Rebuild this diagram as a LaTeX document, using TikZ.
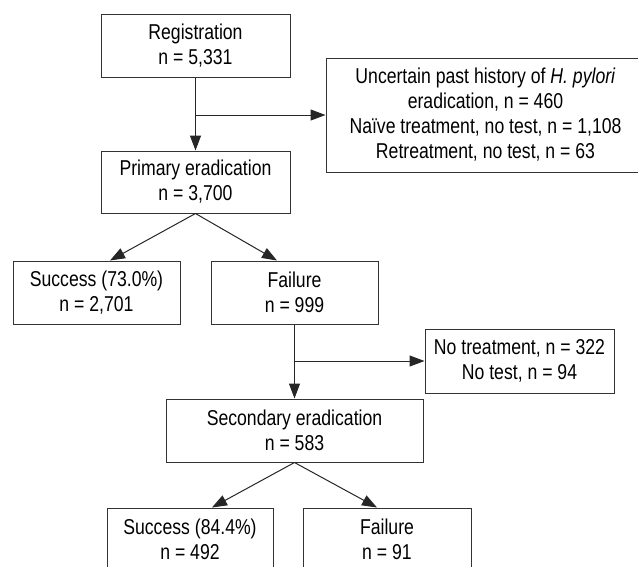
\documentclass[tikz,border=0pt]{standalone}
\usepackage{fontspec}
\setmainfont{Liberation Sans}[FakeStretch=0.82]
\usetikzlibrary{arrows.meta}

\begin{document}
\begin{tikzpicture}[x=1pt,y=-1pt,
  box/.style={draw=black!80,line width=1pt,inner sep=0pt,align=center,
    font=\fontsize{21.5}{25}\selectfont},
  arr/.style={draw=black!85,line width=1pt,-{Triangle[length=15pt,width=11pt]}}]
\useasboundingbox (0,0) rectangle (638,566);
\clip (0,0) rectangle (638,566);
\node [box,minimum width=189pt,minimum height=63pt] (reg) at (195.5,45.5) {Registration\\n = 5,331};
\node [box,minimum width=319pt,minimum height=114pt] (unc) at (485.5,115) {Uncertain past history of \textit{H. pylori}\\eradication, n = 460\\Naïve treatment, no test, n = 1,108\\Retreatment, no test, n = 63};
\node [box,minimum width=189pt,minimum height=62pt] (prim) at (195.5,182) {Primary eradication\\n = 3,700};
\node [box,minimum width=167pt,minimum height=63pt] (succ) at (96.5,292.5) {Success (73.0\%)\\n = 2,701};
\node [box,minimum width=167pt,minimum height=63pt] (fail) at (294.5,292.5) {Failure\\n = 999};
\node [box,minimum width=189pt,minimum height=64pt] (notr) at (519.5,361) {No treatment, n = 322\\No test, n = 94};
\node [box,minimum width=257pt,minimum height=63pt] (sec) at (294.5,430.5) {Secondary eradication\\n = 583};
\node [box,minimum width=166pt,minimum height=63pt] (succb) at (190,539.5) {Success (84.4\%)\\n = 492};
\node [box,minimum width=168pt,minimum height=63pt] (failb) at (387,539.5) {Failure\\n = 91};
\draw [arr] (reg) -- (prim);
\draw [arr] (reg.south |- unc.west) -- (unc.west);
\draw [arr] (prim.south) -- ([xshift=13.5pt]succ.north);
\draw [arr] (prim.south) -- ([xshift=-17.5pt]fail.north);
\draw [arr] (fail) -- (sec);
\draw [arr] (fail.south |- notr.west) -- (notr.west);
\draw [arr] (sec.south) -- ([xshift=22pt]succb.north);
\draw [arr] (sec.south) -- ([xshift=-10pt]failb.north);
\end{tikzpicture}
\end{document}
